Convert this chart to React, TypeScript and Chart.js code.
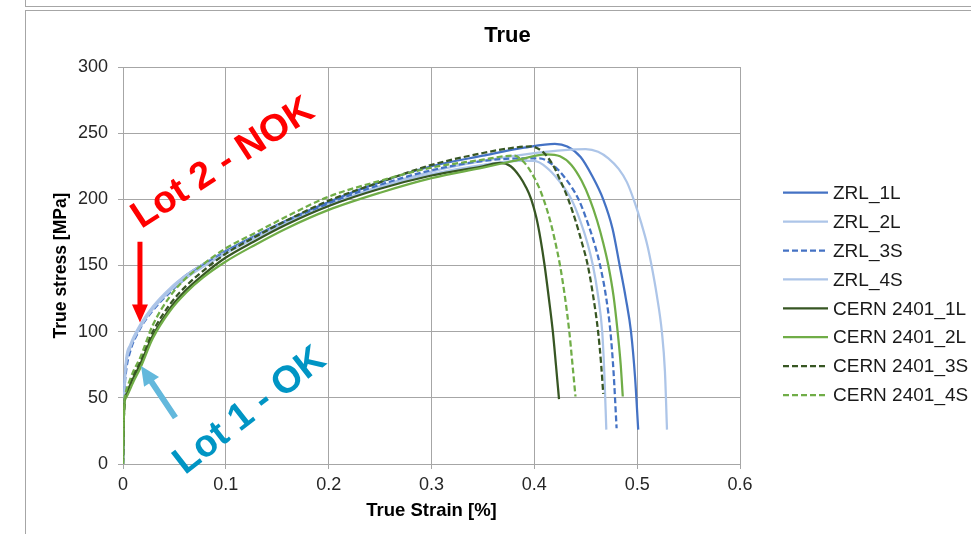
import React, { useEffect, useRef } from "react";
import { Chart, registerables } from "chart.js";

Chart.register(...registerables);

// ---------- text ----------
const TITLE = "True";
const X_TITLE = "True Strain [%]";
const Y_TITLE = "True stress [MPa]";
const LOT2_TEXT = "Lot 2 - NOK";
const LOT1_TEXT = "Lot 1 - OK";

// ---------- ticks ----------
const X_TICKS = [0, 0.1, 0.2, 0.3, 0.4, 0.5, 0.6];
const X_TICK_LABELS = ["0", "0.1", "0.2", "0.3", "0.4", "0.5", "0.6"];
const Y_TICKS = [0, 50, 100, 150, 200, 250, 300];
const Y_TICK_LABELS = ["0", "50", "100", "150", "200", "250", "300"];

// ---------- series (true strain, true stress) ----------
const SERIES_NAMES = [
  "ZRL_1L",
  "ZRL_2L",
  "ZRL_3S",
  "ZRL_4S",
  "CERN 2401_1L",
  "CERN 2401_2L",
  "CERN 2401_3S",
  "CERN 2401_4S",
];

const ZRL_1L: [number, number][] = [
  [0, 0], [0.0005, 30], [0.0015, 60], [0.003, 76], [0.007, 88], [0.0165, 104],
  [0.029, 118], [0.046, 132], [0.062, 143], [0.078, 151], [0.1, 161], [0.127, 172],
  [0.159, 184], [0.2, 198], [0.25, 213], [0.3, 225], [0.35, 233], [0.39, 239],
  [0.42, 242], [0.432, 240], [0.445, 232], [0.456, 218], [0.467, 200], [0.476, 178],
  [0.483, 150], [0.489, 125], [0.494, 100], [0.498, 65], [0.501, 26],
];
const ZRL_2L: [number, number][] = [
  [0, 0], [0.0005, 30], [0.0015, 60], [0.003, 79], [0.007, 90], [0.0165, 105],
  [0.029, 119], [0.046, 133], [0.062, 143], [0.078, 151], [0.1, 160], [0.127, 171],
  [0.159, 183], [0.2, 196], [0.25, 210], [0.3, 221], [0.35, 229], [0.4, 235],
  [0.45, 238], [0.462, 236], [0.472, 231], [0.482, 223], [0.49, 213], [0.497, 199],
  [0.504, 182], [0.51, 165], [0.514, 150], [0.519, 128], [0.524, 100], [0.527, 70],
  [0.529, 26],
];
const ZRL_3S: [number, number][] = [
  [0, 0], [0.0005, 28], [0.0015, 55], [0.003, 70], [0.007, 85], [0.0165, 102],
  [0.029, 116], [0.046, 130], [0.062, 141], [0.078, 150], [0.1, 160], [0.127, 171],
  [0.159, 183], [0.2, 197], [0.25, 211], [0.3, 222], [0.35, 229], [0.39, 231],
  [0.405, 231], [0.418, 226], [0.43, 216], [0.443, 200], [0.452, 182], [0.459, 165],
  [0.464, 150], [0.47, 125], [0.474, 100], [0.477, 70], [0.48, 27],
];
const ZRL_4S: [number, number][] = [
  [0, 0], [0.0005, 30], [0.0015, 58], [0.003, 75], [0.007, 88], [0.0165, 103],
  [0.029, 117], [0.046, 131], [0.062, 141], [0.078, 149], [0.1, 159], [0.127, 170],
  [0.159, 182], [0.2, 195], [0.25, 209], [0.3, 219], [0.35, 226], [0.385, 229],
  [0.4, 229], [0.412, 224], [0.424, 214], [0.436, 200], [0.445, 183], [0.452, 166],
  [0.457, 150], [0.462, 127], [0.466, 100], [0.468, 70], [0.47, 26],
];
const CERN_1L: [number, number][] = [
  [0, 0], [0.0005, 25], [0.0015, 47], [0.003, 52], [0.006, 58], [0.01, 65],
  [0.0165, 75], [0.029, 97], [0.046, 118], [0.062, 132], [0.078, 143], [0.1, 156],
  [0.127, 168], [0.159, 181], [0.2, 195], [0.25, 208], [0.3, 218], [0.35, 225],
  [0.367, 227.5], [0.377, 225], [0.386, 217], [0.392, 209], [0.397, 200], [0.402, 186],
  [0.406, 170], [0.41, 150], [0.414, 126], [0.418, 100], [0.421, 75], [0.424, 49],
];
const CERN_2L: [number, number][] = [
  [0, 0], [0.0005, 25], [0.0015, 46], [0.003, 50], [0.006, 55], [0.01, 62],
  [0.0165, 72], [0.029, 95], [0.046, 116], [0.062, 130], [0.078, 141], [0.1, 153],
  [0.127, 165], [0.159, 178], [0.2, 192], [0.25, 205], [0.3, 216], [0.35, 224],
  [0.38, 229], [0.412, 234], [0.425, 232.5], [0.436, 226], [0.446, 214], [0.454, 200],
  [0.461, 184], [0.467, 167], [0.472, 150], [0.477, 127], [0.481, 100], [0.484, 75],
  [0.486, 51],
];
const CERN_3S: [number, number][] = [
  [0, 0], [0.0005, 25], [0.0015, 47], [0.003, 53], [0.006, 59], [0.01, 67],
  [0.0165, 77], [0.029, 100], [0.046, 121], [0.062, 135], [0.078, 146], [0.1, 159],
  [0.127, 171], [0.159, 184], [0.2, 199], [0.25, 213], [0.3, 226], [0.35, 235],
  [0.38, 239], [0.396, 240], [0.408, 236], [0.418, 226], [0.426, 213], [0.433, 200],
  [0.44, 184], [0.446, 168], [0.452, 150], [0.457, 128], [0.462, 100], [0.465, 75],
  [0.467, 53],
];
const CERN_4S: [number, number][] = [
  [0, 0], [0.0005, 25], [0.0015, 48], [0.003, 55], [0.006, 62], [0.01, 70],
  [0.0165, 80], [0.029, 105], [0.046, 127], [0.062, 141], [0.078, 151], [0.1, 163],
  [0.127, 174], [0.159, 187], [0.2, 202], [0.25, 214], [0.3, 224], [0.35, 230],
  [0.37, 232.5], [0.38, 233], [0.39, 228], [0.398, 219], [0.404, 210], [0.409, 200],
  [0.415, 185], [0.42, 169], [0.425, 150], [0.43, 125], [0.434, 100], [0.437, 76],
  [0.44, 51],
];

const SERIES_DATA = [ZRL_1L, ZRL_2L, ZRL_3S, ZRL_4S, CERN_1L, CERN_2L, CERN_3S, CERN_4S];

// ---------- styles ----------
const BLUE = "#4472C4";
const LIGHT_BLUE = "#ADC5E8";
const DARK_GREEN = "#375623";
const GREEN = "#70AD47";
const SERIES_COLORS = [BLUE, LIGHT_BLUE, BLUE, LIGHT_BLUE, DARK_GREEN, GREEN, DARK_GREEN, GREEN];
const SERIES_DASHED = [false, false, true, false, false, false, true, true];
const DASH = [6, 3];
const GRID = "#A6A6A6";
const FONT = '"Liberation Sans", Arial, sans-serif';

// annotation anchors in data units (strain, stress)
const RED_ARROW_FROM = [0.0165, 168];
const RED_ARROW_TO = [0.0165, 107];
const BLUE_ARROW_FROM = [0.051, 35];
const BLUE_ARROW_TO = [0.0175, 74];
const LOT2_POS = [0.0975, 227];
const LOT1_POS = [0.1235, 40];

function drawArrow(
  ctx: CanvasRenderingContext2D,
  x1: number, y1: number, x2: number, y2: number,
  color: string, shaftW: number, headW: number, headL: number
) {
  const dx = x2 - x1, dy = y2 - y1;
  const len = Math.hypot(dx, dy);
  const ux = dx / len, uy = dy / len;
  const nx = -uy, ny = ux;
  const bx = x2 - ux * headL, by = y2 - uy * headL;
  ctx.beginPath();
  ctx.moveTo(x1 + nx * shaftW / 2, y1 + ny * shaftW / 2);
  ctx.lineTo(bx + nx * shaftW / 2, by + ny * shaftW / 2);
  ctx.lineTo(bx + nx * headW / 2, by + ny * headW / 2);
  ctx.lineTo(x2, y2);
  ctx.lineTo(bx - nx * headW / 2, by - ny * headW / 2);
  ctx.lineTo(bx - nx * shaftW / 2, by - ny * shaftW / 2);
  ctx.lineTo(x1 - nx * shaftW / 2, y1 - ny * shaftW / 2);
  ctx.closePath();
  ctx.fillStyle = color;
  ctx.fill();
}

const titlePlugin = {
  id: "centerTitle",
  afterDraw(chart: any) {
    const ctx: CanvasRenderingContext2D = chart.ctx;
    ctx.save();
    ctx.fillStyle = "#000";
    ctx.font = `bold 22px ${FONT}`;
    ctx.textAlign = "center";
    ctx.textBaseline = "middle";
    ctx.fillText(TITLE, 507.5, 35.5);
    ctx.restore();
  },
};

const legendPlugin = {
  id: "sideLegend",
  afterDraw(chart: any) {
    const ctx: CanvasRenderingContext2D = chart.ctx;
    ctx.save();
    chart.data.datasets.forEach((ds: any, i: number) => {
      const y = 192.7 + i * 28.9;
      ctx.beginPath();
      ctx.setLineDash(ds.borderDash || []);
      ctx.strokeStyle = ds.borderColor;
      ctx.lineWidth = ds.borderWidth;
      ctx.moveTo(783, y);
      ctx.lineTo(828, y);
      ctx.stroke();
      ctx.setLineDash([]);
      ctx.fillStyle = "#1a1a1a";
      ctx.font = `19px ${FONT}`;
      ctx.textAlign = "left";
      ctx.textBaseline = "middle";
      ctx.fillText(ds.label, 833, y + 1);
    });
    ctx.restore();
  },
};

const annotationPlugin = {
  id: "lotAnnotations",
  afterDraw(chart: any) {
    const ctx: CanvasRenderingContext2D = chart.ctx;
    const xs = chart.scales.x, ys = chart.scales.y;
    const px = (p: number[]) => [xs.getPixelForValue(p[0]), ys.getPixelForValue(p[1])];
    ctx.save();
    const [r1x, r1y] = px(RED_ARROW_FROM);
    const [r2x, r2y] = px(RED_ARROW_TO);
    drawArrow(ctx, r1x, r1y, r2x, r2y, "#FF0000", 5, 16, 18);
    const [b1x, b1y] = px(BLUE_ARROW_FROM);
    const [b2x, b2y] = px(BLUE_ARROW_TO);
    drawArrow(ctx, b1x, b1y, b2x, b2y, "#63B8DC", 6, 18, 19);

    ctx.textAlign = "center";
    ctx.textBaseline = "middle";
    ctx.font = `bold 38px ${FONT}`;
    const [t2x, t2y] = px(LOT2_POS);
    ctx.save();
    ctx.translate(t2x, t2y);
    ctx.rotate((-33 * Math.PI) / 180);
    ctx.fillStyle = "#FF0000";
    ctx.fillText(LOT2_TEXT, 0, 0);
    ctx.restore();
    const [t1x, t1y] = px(LOT1_POS);
    ctx.save();
    ctx.translate(t1x, t1y);
    ctx.rotate((-38 * Math.PI) / 180);
    ctx.fillStyle = "#0095C4";
    ctx.fillText(LOT1_TEXT, 0, 0);
    ctx.restore();
    ctx.restore();
  },
};

export default function App() {
  const canvasRef = useRef<HTMLCanvasElement | null>(null);

  useEffect(() => {
    if (!canvasRef.current) return;
    const datasets = SERIES_NAMES.map((name, i) => ({
      label: name,
      data: SERIES_DATA[i].map(([x, y]) => ({ x, y })),
      borderColor: SERIES_COLORS[i],
      backgroundColor: SERIES_COLORS[i],
      borderWidth: 2.25,
      borderDash: SERIES_DASHED[i] ? DASH : [],
      pointRadius: 0,
      pointHoverRadius: 0,
      fill: false,
      cubicInterpolationMode: "monotone" as const,
      order: SERIES_NAMES.length - i,
    }));

    const chart = new Chart(canvasRef.current, {
      type: "line",
      data: { datasets },
      options: {
        animation: false,
        responsive: false,
        maintainAspectRatio: false,
        layout: { padding: { left: 26, right: 231, top: 67, bottom: 0 } },
        plugins: {
          legend: { display: false },
          tooltip: { enabled: false },
          title: { display: false },
        },
        scales: {
          x: {
            type: "linear",
            min: 0,
            max: 0.6,
            afterBuildTicks: (scale: any) => {
              scale.ticks = X_TICKS.map((v) => ({ value: v }));
            },
            afterFit: (scale: any) => {
              scale.height = 70;
            },
            ticks: {
              padding: 5,
              color: "#262626",
              font: { family: FONT, size: 18 },
              maxRotation: 0,
              autoSkip: false,
              callback: (v: any) => {
                const idx = X_TICKS.findIndex((t) => Math.abs(t - Number(v)) < 1e-9);
                return idx >= 0 ? X_TICK_LABELS[idx] : "";
              },
            },
            grid: { color: GRID, tickLength: 5, lineWidth: 1 },
            border: { color: GRID },
            title: {
              display: true,
              text: X_TITLE,
              color: "#000",
              font: { family: FONT, size: 18.5, weight: "bold" },
              padding: { top: 0, bottom: 12 },
            },
          },
          y: {
            type: "linear",
            min: 0,
            max: 300,
            afterBuildTicks: (scale: any) => {
              scale.ticks = Y_TICKS.map((v) => ({ value: v }));
            },
            afterFit: (scale: any) => {
              scale.width = 97;
            },
            ticks: {
              padding: 10,
              color: "#262626",
              font: { family: FONT, size: 18 },
              autoSkip: false,
              callback: (v: any) => {
                const idx = Y_TICKS.indexOf(Number(v));
                return idx >= 0 ? Y_TICK_LABELS[idx] : "";
              },
            },
            grid: { color: GRID, tickLength: 5, lineWidth: 1 },
            border: { color: GRID },
            title: {
              display: true,
              text: Y_TITLE,
              color: "#000",
              font: { family: FONT, size: 17.5, weight: "bold" },
              padding: { top: 24.5, bottom: 0 },
            },
          },
        },
      },
      plugins: [titlePlugin, legendPlugin, annotationPlugin],
    } as any);

    return () => chart.destroy();
  }, []);

  return (
    <div
      style={{
        position: "fixed",
        left: 0,
        top: 0,
        width: 971,
        height: 534,
        overflow: "hidden",
        background: "#fff",
      }}
    >
      <div
        style={{
          position: "absolute",
          left: 25,
          top: -10,
          width: 1000,
          height: 17,
          boxSizing: "border-box",
          border: "1px solid #A6A6A6",
        }}
      />
      <div
        style={{
          position: "absolute",
          left: 25,
          top: 10,
          width: 1000,
          height: 600,
          boxSizing: "border-box",
          border: "1px solid #A6A6A6",
        }}
      />
      <canvas
        ref={canvasRef}
        width={971}
        height={534}
        style={{ position: "absolute", left: 0, top: 0, width: 971, height: 534 }}
      />
    </div>
  );
}
